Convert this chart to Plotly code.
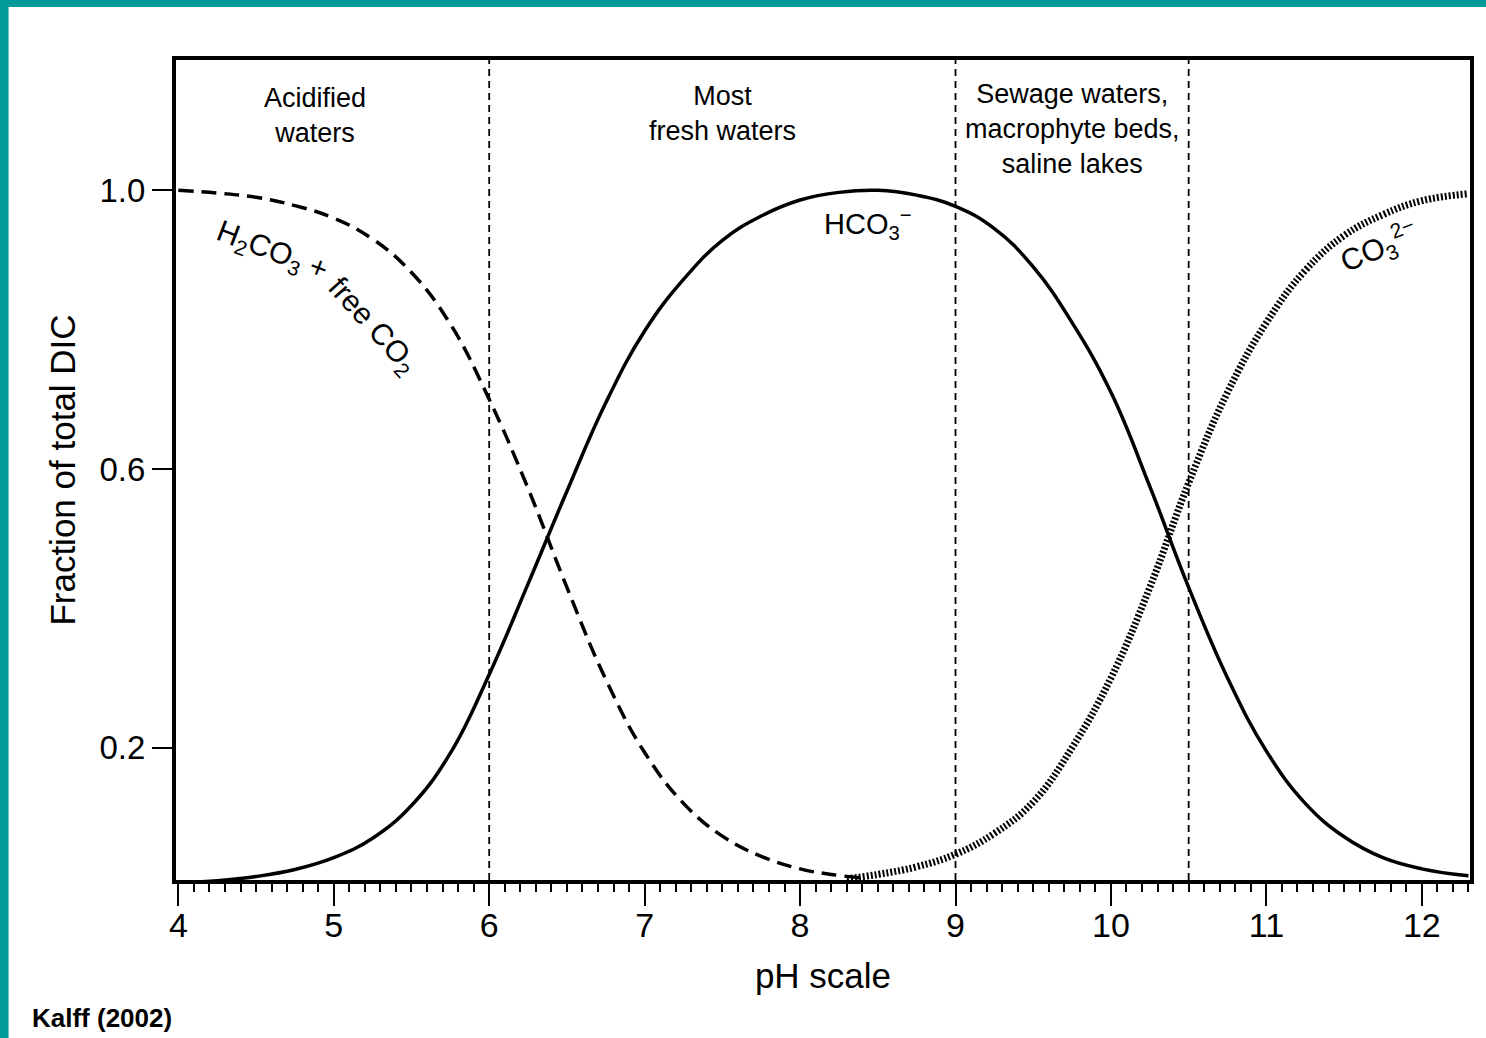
import plotly.graph_objects as go

# ---- data ----
ph_h2co3 = [4.0, 4.25, 4.5, 4.75, 5.0, 5.25, 5.5, 5.75, 6.0, 6.25, 6.5, 6.75,
            7.0, 7.25, 7.5, 7.75, 8.0, 8.2, 8.4]
frac_h2co3 = [1.0, 0.996, 0.99, 0.978, 0.96, 0.93, 0.882, 0.808, 0.70, 0.572,
              0.43, 0.298, 0.193, 0.12, 0.073, 0.044, 0.026, 0.018, 0.013]

ph_hco3 = [4.0, 4.25, 4.5, 4.75, 5.0, 5.25, 5.5, 5.75, 6.0, 6.25, 6.5, 6.75,
           7.0, 7.25, 7.5, 7.75, 8.0, 8.25, 8.5, 8.75, 9.0, 9.25, 9.5, 9.75,
           10.0, 10.25, 10.5, 10.75, 11.0, 11.25, 11.5, 11.75, 12.0, 12.3]
frac_hco3 = [0.006, 0.009, 0.015, 0.025, 0.042, 0.07, 0.117, 0.192, 0.305,
             0.435, 0.568, 0.695, 0.798, 0.872, 0.928, 0.963, 0.986, 0.997,
             1.0, 0.993, 0.977, 0.945, 0.89, 0.81, 0.71, 0.575, 0.43, 0.3,
             0.195, 0.12, 0.072, 0.042, 0.026, 0.016]

ph_co3 = [8.3, 8.5, 8.75, 9.0, 9.25, 9.5, 9.75, 10.0, 10.25, 10.5, 10.75,
          11.0, 11.25, 11.5, 11.75, 12.0, 12.3]
frac_co3 = [0.012, 0.018, 0.029, 0.047, 0.077, 0.122, 0.2, 0.3, 0.43, 0.58,
            0.71, 0.81, 0.885, 0.935, 0.965, 0.985, 0.995]

region_bounds = [6, 9, 10.5]
region_labels = ["Acidified<br>waters", "Most<br>fresh waters",
                 "Sewage waters,<br>macrophyte beds,<br>saline lakes"]
region_label_x = [4.88, 7.5, 9.75]
region_label_y = [1.108, 1.11, 1.088]

y_tickvals = [0.2, 0.6, 1.0]
y_ticktext = ["0.2", "0.6", "1.0"]

FONT = "Liberation Sans, Arial, sans-serif"
TEAL = "#009a9a"

fig = go.Figure()
fig.add_trace(go.Scatter(x=ph_h2co3, y=frac_h2co3, mode="lines",
                         line=dict(color="black", width=3.5, dash="15px,8px",
                                   shape="spline", smoothing=1.2),
                         showlegend=False))
fig.add_trace(go.Scatter(x=ph_hco3, y=frac_hco3, mode="lines",
                         line=dict(color="black", width=3.5, shape="spline",
                                   smoothing=1.2),
                         showlegend=False))
fig.add_trace(go.Scatter(x=ph_co3, y=frac_co3, mode="lines",
                         line=dict(color="black", width=7, dash="2px,2px",
                                   shape="spline", smoothing=1.2),
                         showlegend=False))

for xb in region_bounds:
    fig.add_vline(x=xb, line=dict(color="black", width=1.8, dash="7px,5px"))

for txt, xx, yy in zip(region_labels, region_label_x, region_label_y):
    fig.add_annotation(x=xx, y=yy, text=txt, showarrow=False,
                       font=dict(family=FONT, size=27, color="black"),
                       xanchor="center", yanchor="middle", align="center")

# curve labels
fig.add_annotation(x=4.6, y=0.912, text="H<sub>2</sub>CO<sub>3</sub> +",
                   showarrow=False, textangle=21,
                   font=dict(family=FONT, size=30, color="black"))
fig.add_annotation(x=5.25, y=0.805, text="free CO<sub>2</sub>",
                   showarrow=False, textangle=48,
                   font=dict(family=FONT, size=30, color="black"))
fig.add_annotation(x=8.44, y=0.952, text="HCO<sub>3</sub><sup>−</sup>",
                   showarrow=False,
                   font=dict(family=FONT, size=29, color="black"))
fig.add_annotation(x=11.73, y=0.918, text="CO<sub>3</sub><sup>2−</sup>",
                   showarrow=False, textangle=-22,
                   font=dict(family=FONT, size=30, color="black"))

# source note
fig.add_annotation(xref="paper", yref="paper", x=-0.1125, y=-0.168,
                   xanchor="left", yanchor="middle", text="<b>Kalff (2002)</b>",
                   showarrow=False, font=dict(family=FONT, size=26, color="black"))

# teal border strips
fig.add_shape(type="rect", xref="paper", yref="paper", x0=-0.14, x1=-0.1294,
              y0=-0.2, y1=1.08, fillcolor=TEAL, line=dict(width=0), layer="above")
fig.add_shape(type="rect", xref="paper", yref="paper", x0=-0.14, x1=1.02,
              y0=1.0646, y1=1.08, fillcolor=TEAL, line=dict(width=0), layer="above")

xr = [3.985, 12.31]
fig.update_layout(
    width=1486, height=1038,
    margin=dict(l=176, r=13, t=60, b=158),
    paper_bgcolor="white", plot_bgcolor="white",
    font=dict(family=FONT, color="black"),
    xaxis=dict(range=xr, tick0=4, dtick=1, ticks="outside", ticklen=22,
               tickwidth=2, tickcolor="black", showline=True, linewidth=4,
               linecolor="black", mirror=True, showgrid=False, zeroline=False,
               ticklabelstandoff=-10,
               tickfont=dict(family=FONT, size=34, color="black"),
               minor=dict(dtick=0.1, tick0=4, ticks="outside", ticklen=8,
                          tickwidth=2, tickcolor="black", showgrid=False),
               title=dict(text="pH scale", standoff=22,
                          font=dict(family=FONT, size=35, color="black"))),
    xaxis2=dict(range=xr, overlaying="x", anchor="y", side="bottom",
                tick0=4, dtick=0.5, ticks="outside", ticklen=15, tickwidth=2,
                tickcolor="black", showticklabels=False, showline=False,
                showgrid=False, zeroline=False),
    yaxis=dict(range=[0.01, 1.187], tickvals=y_tickvals, ticktext=y_ticktext,
               ticks="outside", ticklen=20, tickwidth=2, tickcolor="black",
               showline=True, linewidth=4, linecolor="black", mirror=True,
               showgrid=False, zeroline=False,
               tickfont=dict(family=FONT, size=33, color="black"),
               title=dict(text="Fraction of total DIC", standoff=14,
                          font=dict(family=FONT, size=35, color="black"))),
)

fig.write_html("out.html")
